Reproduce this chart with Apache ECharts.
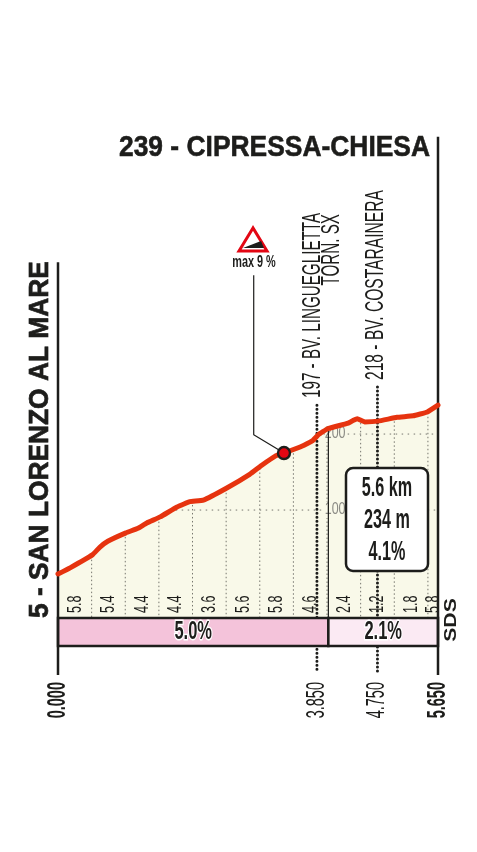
<!DOCTYPE html>
<html><head><meta charset="utf-8">
<style>html,body{margin:0;padding:0;background:#fff}#c{width:477px;height:852px}</style>
<script src="https://cdn.jsdelivr.net/npm/echarts@6/dist/echarts.min.js"></script>
</head><body><div id="c"></div>
<script>
const profileKm=[0,.18,.51,.62,.74,1.01,1.19,1.32,1.52,1.77,1.96,2.16,2.51,2.85,3.03,3.23,3.36,3.60,3.78,3.87,4.01,4.30,4.45,4.56,4.76,5.04,5.28,5.49,5.65];
const profileElev=[16,24,41,51,59,70,76,83,91,104,111,113,129,147,159,171,175,183,191,199,207,214,220,216,217,222,224,229,238];
const halfKm=[.5,1,1.5,2,2.5,3,3.5,4,4.5,5,5.5];
const halfKmElev=[40,70,90,112,128,160,180,206,220,222,228];
const gradeKm=[.25,.75,1.25,1.75,2.25,2.75,3.25,3.75,4.25,4.75,5.25,5.575];
const gradeLabels=['5.8','5.4','4.4','4.4','3.6','5.6','5.8','4.6','2.4','1.2','1.8','5.8'];
const gridElev=[100,200];
const gridStartKm=[1.75,3.95];
const bandStart=[0,4.02];
const bandEnd=[4.02,5.65];
const bandGrade=['5.0%','2.1%'];
const bandColor=['#f4c3da','#fbeaf3'];
const passKm=[3.85,4.75];
const passTop=[238,262];
const distTicks=[0,3.85,4.75,5.65];
const frameKm=[0,5.65];
const frameTop=[426,591];
const leaderKm=[2.91,2.91,3.36];
const leaderElev=[409,199,175];
const maxKm=3.36, maxElev=175;
const title='239 - CIPRESSA-CHIESA';
const startName='5 - SAN LORENZO AL MARE';

const sans='"Liberation Sans",Arial,sans-serif';
const ink='#1d1d1b';
const BELOW=-113;
const FRAME_LOW=-117;

function vt(text,x,y,size,o){o=o||{};return {type:'text',x:x,y:y,rotation:Math.PI/2,scaleX:o.sx||1,z:o.z||60,
 style:{text:text,font:(o.w||'normal')+' '+size+'px '+sans,fill:o.c||ink,align:o.a||'left',verticalAlign:'middle',stroke:o.s?ink:null,lineWidth:o.s||0}};}
function ht(text,x,y,size,o){o=o||{};return {type:'text',x:x,y:y,scaleX:o.sx||1,z:o.z||60,
 style:{text:text,font:(o.w||'normal')+' '+size+'px '+sans,fill:o.c||ink,align:o.a||'center',verticalAlign:'middle',stroke:o.s?ink:null,lineWidth:o.s||0}};}

function seg(api,a,b,style){const p=api.coord(a),q=api.coord(b);
 return {type:'line',shape:{x1:p[0],y1:p[1],x2:q[0],y2:q[1]},style:style};}

const chart=echarts.init(document.getElementById('c'),null,{renderer:'canvas'});
chart.setOption({
 animation:false,
 grid:[{left:58,width:380,top:130,height:488},{left:58,width:380,top:618,height:28}],
 xAxis:[
  {gridIndex:0,type:'value',min:0,max:5.65,show:false},
  {gridIndex:1,type:'value',min:0,max:5.65,show:false}
 ],
 yAxis:[
  {gridIndex:0,type:'value',min:-42,max:600,show:false},
  {gridIndex:1,type:'value',min:0,max:1,show:false}
 ],
 series:[
  {type:'line',name:'profile',xAxisIndex:0,yAxisIndex:0,z:2,data:profileKm.map((k,i)=>[k,profileElev[i]]),
   showSymbol:false,smooth:0.1,lineStyle:{width:0},areaStyle:{color:'#f9f9e9',opacity:1,origin:'start'}},
  {type:'custom',name:'grid',xAxisIndex:0,yAxisIndex:0,z:3,clip:false,data:gridElev.map((e,i)=>[gridStartKm[i],e]),
   renderItem:function(p,api){return seg(api,[api.value(0),api.value(1)],[5.65,api.value(1)],{stroke:'#77776f',lineWidth:1,lineDash:[1.5,4.5]});}},
  {type:'custom',name:'halfKm',xAxisIndex:0,yAxisIndex:0,z:3,clip:false,data:halfKm.map((k,i)=>[k,halfKmElev[i]]),
   renderItem:function(p,api){return seg(api,[api.value(0),api.value(1)],[api.value(0),-42],{stroke:'#77776f',lineWidth:1,lineDash:[1.5,2.5]});}},
  {type:'custom',name:'elevLabels',xAxisIndex:0,yAxisIndex:0,z:4,clip:false,data:gridElev.map(e=>[4.12,e]),
   renderItem:function(p,api){const c=api.coord([api.value(0),api.value(1)]);
    return {type:'text',x:c[0],y:c[1],scaleX:.78,style:{text:String(api.value(1)),font:'16px '+sans,fill:'#8a8a84',align:'center',verticalAlign:'middle',backgroundColor:'#f9f9e9'}};}},
  {type:'custom',name:'passes',xAxisIndex:0,yAxisIndex:0,z:5,clip:false,data:passKm.map((k,i)=>[k,passTop[i]]),
   renderItem:function(p,api){return seg(api,[api.value(0),api.value(1)],[api.value(0),BELOW],{stroke:ink,lineWidth:3,lineCap:'round',lineDash:[0.1,3.9]});}},
  {type:'custom',name:'gradeLabels',xAxisIndex:0,yAxisIndex:0,z:6,clip:false,data:gradeKm.map((k,i)=>[k,i]),
   renderItem:function(p,api){const i=api.value(1),c=api.coord([api.value(0),-24]);
    return {type:'text',x:c[0],y:c[1],rotation:Math.PI/2,scaleX:.6,style:{text:gradeLabels[i],font:'21px '+sans,fill:ink,align:'center',verticalAlign:'middle'}};}},
  {type:'custom',name:'bands',xAxisIndex:1,yAxisIndex:1,z:7,clip:false,data:bandStart.map((s,i)=>[s,bandEnd[i],i]),
   renderItem:function(p,api){const i=api.value(2),a=api.coord([api.value(0),1]),b=api.coord([api.value(1),0]);
    return {type:'group',children:[
     {type:'rect',shape:{x:a[0],y:a[1],width:b[0]-a[0],height:b[1]-a[1]},style:{fill:bandColor[i],stroke:ink,lineWidth:2.5}},
     {type:'text',x:(a[0]+b[0])/2,y:(a[1]+b[1])/2+.5,scaleX:.66,style:{text:bandGrade[i],font:'bold 25px '+sans,fill:ink,align:'center',verticalAlign:'middle',stroke:'#fff',lineWidth:3}}
    ]};}},
  {type:'custom',name:'distTicks',xAxisIndex:1,yAxisIndex:1,z:7,clip:false,data:distTicks.map(v=>[v]),
   renderItem:function(p,api){const v=api.value(0),c=api.coord([v,0]);const strong=(v===0||v===5.65);
    return {type:'text',x:c[0],y:c[1]+36,rotation:Math.PI/2,scaleX:.58,style:{text:v.toFixed(3),font:(strong?'bold':'normal')+' 25px '+sans,fill:ink,align:'right',verticalAlign:'middle'}};}},
  {type:'custom',name:'frame',xAxisIndex:0,yAxisIndex:0,z:8,clip:false,data:frameKm.map((k,i)=>[k,frameTop[i]]),
   renderItem:function(p,api){return seg(api,[api.value(0),api.value(1)],[api.value(0),FRAME_LOW],{stroke:ink,lineWidth:2.5});}},
  {type:'custom',name:'split',xAxisIndex:0,yAxisIndex:0,z:8,clip:false,data:[[bandEnd[0],207]],
   renderItem:function(p,api){return seg(api,[api.value(0),api.value(1)],[api.value(0),-42],{stroke:ink,lineWidth:1.2});}},
  {type:'line',name:'profileLine',xAxisIndex:0,yAxisIndex:0,z:9,clip:false,data:profileKm.map((k,i)=>[k,profileElev[i]]),
   showSymbol:false,smooth:0.1,lineStyle:{color:'#e6330f',width:5,cap:'round',join:'round'}},
  {type:'line',name:'leader',xAxisIndex:0,yAxisIndex:0,z:10,clip:false,data:leaderKm.map((k,i)=>[k,leaderElev[i]]),
   showSymbol:false,lineStyle:{color:ink,width:1.2}},
  {type:'scatter',name:'max',xAxisIndex:0,yAxisIndex:0,z:11,clip:false,data:[[maxKm,maxElev]],symbolSize:12,
   itemStyle:{color:'#e30613',borderColor:ink,borderWidth:2.4,opacity:1}}
 ],
 graphic:{elements:[
  ht(title,430,148,30,{w:'bold',a:'right',sx:.88,s:.6}),
  vt(startName,40,618,28,{w:'bold',sx:.94,s:.7}),
  vt('197 - BV. LINGUEGLIETTA',312.5,398,26,{sx:.585}),
  vt('TORN. SX',332,214,26,{a:'right',sx:.585}),
  vt('218 - BV. COSTARAINERA',376,380,26,{sx:.6}),
  vt('SDS',451,620,17,{w:'bold',a:'center',sx:1.25}),
  {type:'polygon',z:60,shape:{points:[[253,228],[239,251],[267,251]]},style:{fill:'#fff',stroke:'#e30613',lineWidth:3,lineJoin:'miter'}},
  {type:'polygon',z:61,shape:{points:[[243,248],[261,241],[264,248]]},style:{fill:ink}},
  ht('max 9 %',254,263,16,{w:'bold',sx:.68}),
  {type:'rect',z:60,shape:{x:346,y:468,width:82,height:103,r:7},style:{fill:'#fff',stroke:ink,lineWidth:2.5}},
  ht('5.6 km',387,489,27,{w:'bold',z:61,sx:.6}),
  ht('234 m',387,521,27,{w:'bold',z:61,sx:.6}),
  ht('4.1%',387,553,27,{w:'bold',z:61,sx:.6})
 ]}
});
</script></body></html>
